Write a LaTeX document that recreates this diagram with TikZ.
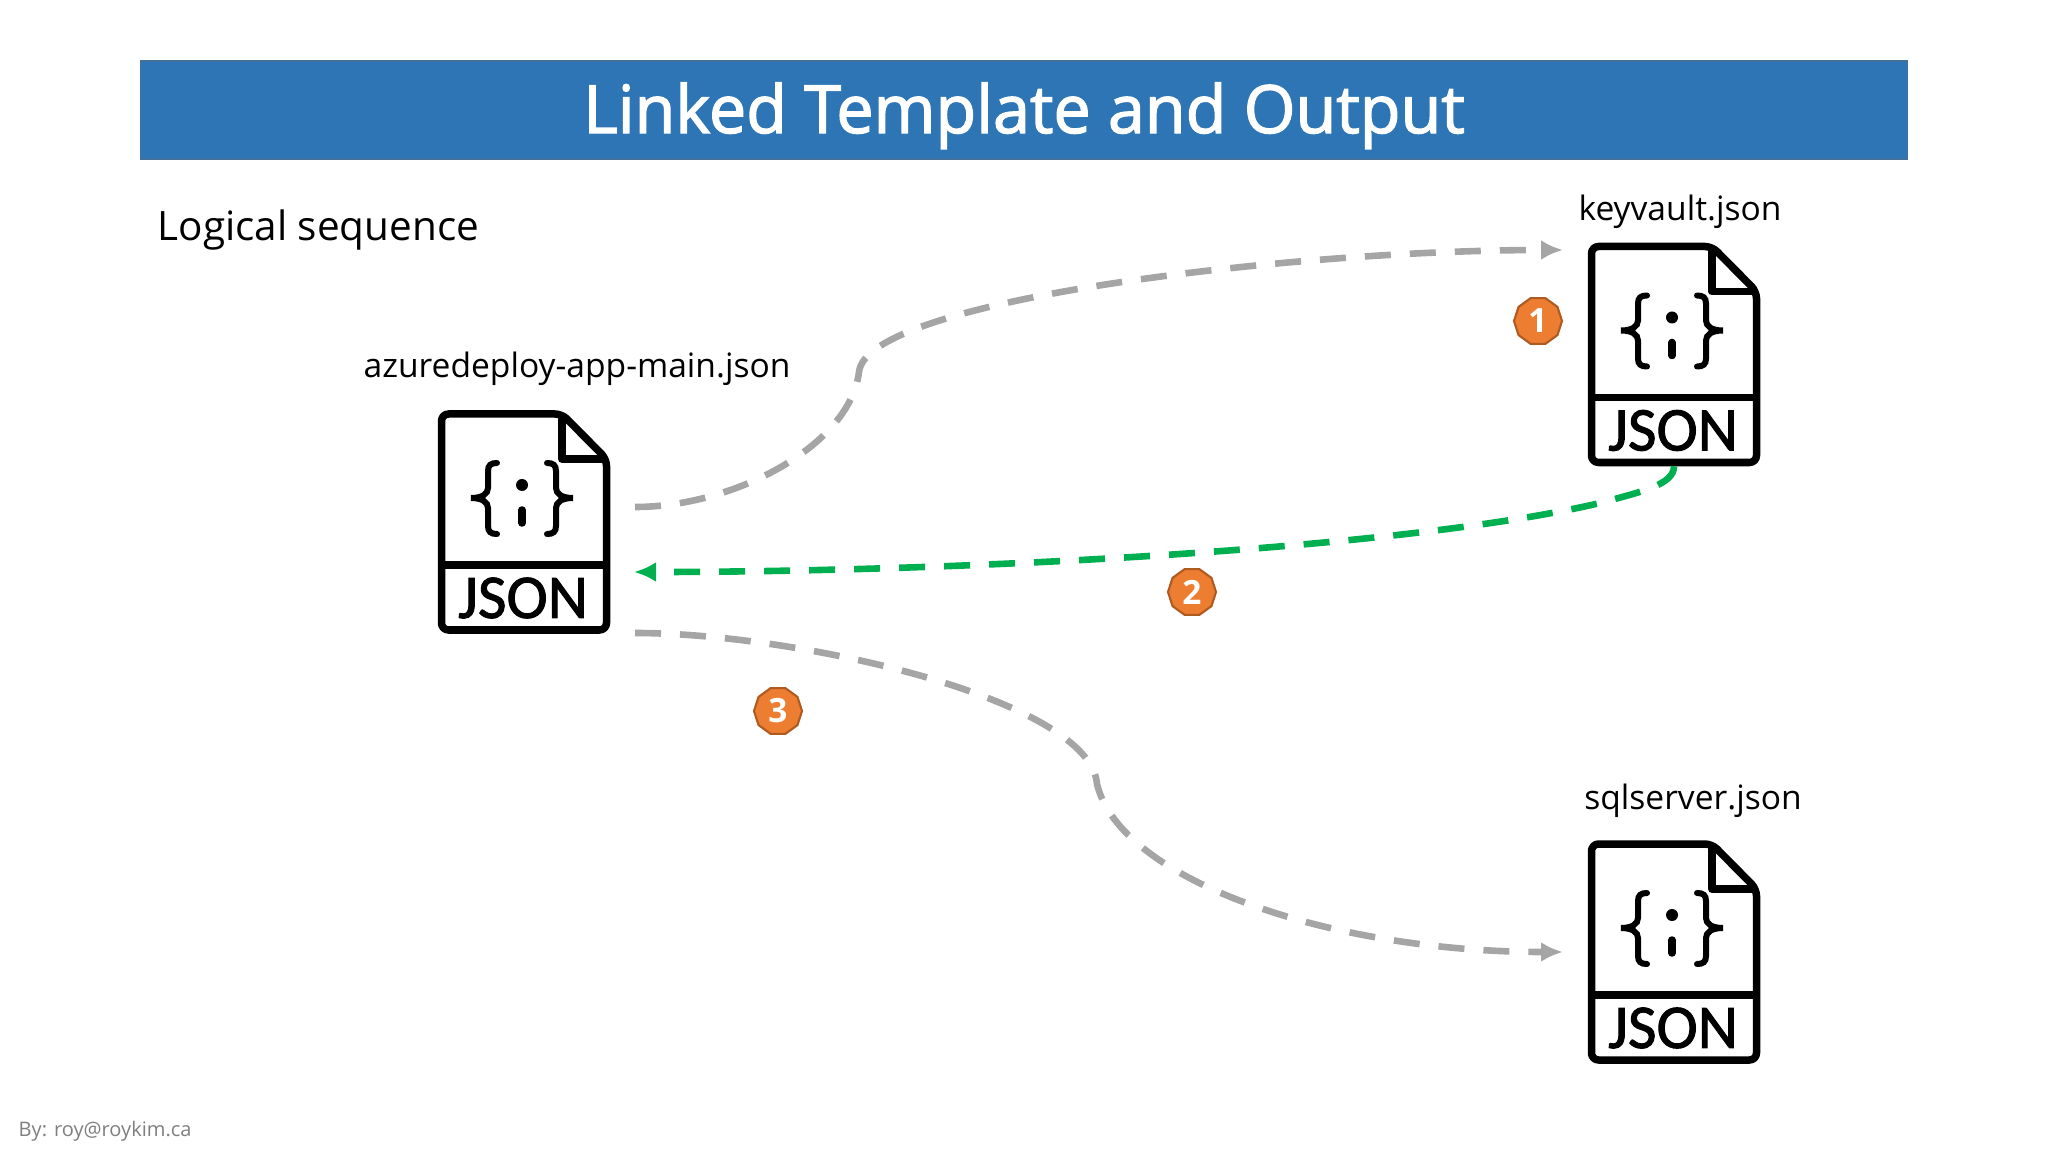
\documentclass[tikz,border=0pt]{standalone}
\usepackage{fontspec}
\setmainfont{Open Sans}
\newfontfamily\semifont[FakeBold=2]{Open Sans}
\newfontfamily\tagfont[FakeBold=1.5]{Carlito}
\usetikzlibrary{arrows.meta,positioning,shapes.geometric}
\definecolor{bar}{HTML}{2E75B6}
\definecolor{barline}{HTML}{41719C}
\definecolor{graya}{HTML}{A5A5A5}
\definecolor{grn}{HTML}{00B050}
\definecolor{org}{HTML}{ED7D31}
\definecolor{orgline}{HTML}{AE5A21}
\definecolor{foot}{HTML}{7F7F7F}
\begin{document}
\begin{tikzpicture}[x=.01cm,y=-.01cm,>={Latex[length=.22cm,width=.2cm]},
 title/.style={draw=barline,fill=bar,text=white,line width=.5pt,minimum width=17.66cm,minimum height=.98cm,inner sep=0pt,font=\fontsize{18.9}{22}\selectfont\semifont},
 lbl/.style={font=\fontsize{9.55}{12}\selectfont,inner sep=0pt},
 badge/.style={regular polygon,regular polygon sides=10,draw=orgline,fill=org,text=white,line width=.6pt,minimum size=.48cm,inner sep=0pt,font=\fontsize{9.5}{11}\selectfont\bfseries},
 a/.style={->,draw=graya,line width=.066cm,dash pattern=on .26cm off .19cm},
 b/.style={a,draw=grn},
 ic/.style={draw=black,line width=.075cm,line join=round},
 br/.style={draw=black,line width=.06cm,line cap=round},
 jsonfile/.pic={
  \node[minimum width=1.72cm,minimum height=2.22cm,inner sep=0pt] (-body) at (0,0) {};
  \draw[ic,rounded corners=.07cm] (-82.5,-108) -- (38,-108) -- (82.5,-63) -- (82.5,108) -- (-82.5,108) -- cycle;
  \draw[ic] (38,-108) -- (38,-63) -- (82.5,-63);
  \draw[ic] (-82.5,43) -- (82.5,43);
  \draw[br] (-27,-59) .. controls (-33,-59) and (-36,-57) .. (-36,-51) -- (-36,-34) .. controls (-36,-28) and (-42,-24) .. (-53,-24) .. controls (-42,-24) and (-36,-20) .. (-36,-14) -- (-36,4) .. controls (-36,10) and (-33,12) .. (-27,12);
  \draw[br] (23,-59) .. controls (29,-59) and (32,-57) .. (32,-51) -- (32,-34) .. controls (32,-28) and (38,-24) .. (49,-24) .. controls (38,-24) and (32,-20) .. (32,-14) -- (32,4) .. controls (32,10) and (29,12) .. (23,12);
  \fill (-2,-37) circle (.06cm);
  \draw[draw=black,line width=.075cm,line cap=round] (-2,-12) -- (-2,1);
  \node[inner sep=0pt,font=\fontsize{17.7}{21}\selectfont\tagfont] (-tag) at (-1,76) {JSON};
 }]
\useasboundingbox (0,0) rectangle (2048,1152);
\node[title] (head) at (1024,110) {\raisebox{-.23cm}[0pt][0pt]{Linked Template and Output}};
\node[lbl,anchor=west,font=\fontsize{11.5}{14}\selectfont] (logic) at (157,230) {Logical sequence};
\pic (main) at (524,522) {jsonfile};
\pic (kv) at (1674,354.5) {jsonfile};
\pic (sql) at (1674,952) {jsonfile};
\node[lbl,above=.24cm of main-body.north,xshift=.53cm] (mainlbl) {azuredeploy-app-main.json};
\node[lbl,above=.13cm of kv-body.north,xshift=.06cm] (kvlbl) {keyvault.json};
\node[lbl,above=.22cm of sql-body.north,xshift=.19cm] (sqllbl) {sqlserver.json};
\coordinate (m1) at (635,507);
\coordinate (m2) at (634,572);
\coordinate (m3) at (635,633);
\coordinate (k1) at (1563,250);
\coordinate (s1) at (1563,952);
\draw[a] (m1) .. controls (735,507) and (850,445) .. (859,372) .. controls (866,300) and (1290,250) .. (k1);
\draw[b] (kv-body.south) .. controls (1674,485) and (1640,492) .. (1600,503) .. controls (1400,550) and (950,572) .. (m2);
\draw[a] (m3) .. controls (800,633) and (1090,700) .. (1097,784) .. controls (1120,880) and (1330,952) .. (s1);
\node[badge] (one) at (1538,321) {1};
\node[badge] (two) at (1192,592) {2};
\node[badge] (three) at (778,711) {3};
\node[lbl,anchor=west,text=foot,font=\fontsize{5.7}{7}\selectfont] (by) at (18,1131) {By: roy@roykim.ca};
\end{tikzpicture}
\end{document}
